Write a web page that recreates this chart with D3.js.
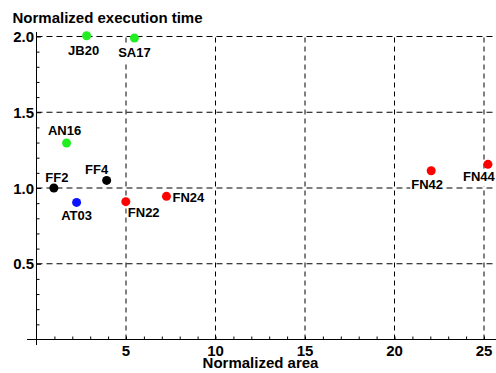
<!DOCTYPE html>
<html><head><meta charset="utf-8">
<script src="https://cdn.jsdelivr.net/npm/d3@7"></script>
<style>body{margin:0;background:#fff}svg{display:block}</style>
</head><body>
<svg id="c" width="496" height="373"></svg>
<script>
// ---- data ----
const names  = ["JB20","SA17","AN16","FF2","FF4","AT03","FN22","FN24","FN42","FN44"];
const areas  = [2.80, 5.47, 1.68, 0.97, 3.92, 2.24, 4.99, 7.26, 22.05, 25.22];
const times  = [2.005, 1.99, 1.297, 1.0, 1.05, 0.905, 0.91, 0.945, 1.114, 1.156];
const groups = ["green","green","green","black","black","blue","red","red","red","red"];
const xTicks = [5, 10, 15, 20, 25];
const yTicks = [0.5, 1.0, 1.5, 2.0];
const xTitle = "Normalized area";
const yTitle = "Normalized execution time";

// ---- style / layout ----
const colorMap = {green:"#22ee22", black:"#000000", blue:"#0a14ff", red:"#ff0000"};
// label placement relative to point: [dx, dy, anchor]
const labelPos = [[-3,19,"middle"],[0,19,"middle"],[-2,-8,"middle"],[3,-6,"middle"],[-10,-6,"middle"],
                  [0,18,"middle"],[2,15,"start"],[6,5.5,"start"],[-4,18,"middle"],[-9,17,"middle"]];

const svg = d3.select("#c");
const x = d3.scaleLinear().domain([0, 25.65]).range([36.5, 36.5 + 25.65*17.9]);
const y = d3.scaleLinear().domain([0, 2.03]).range([339.5, 339.5 - 2.03*151.5]);
const font = "'Liberation Sans', Arial, sans-serif";

// grid
const g = svg.append("g");
g.selectAll(".gx").data(xTicks).join("line")
  .attr("x1", d => x(d)).attr("x2", d => x(d))
  .attr("y1", y(0)).attr("y2", y(2.0))
  .attr("stroke", "#000").attr("stroke-dasharray", "5,4");
g.selectAll(".gy").data(yTicks).join("line")
  .attr("x1", x(0)).attr("x2", 496)
  .attr("y1", d => y(d)).attr("y2", d => y(d))
  .attr("stroke", "#000").attr("stroke-dasharray", "6,4");

// axes
const xAxis = svg.append("g").attr("transform", `translate(0,${y(0)})`)
  .call(d3.axisBottom(x).tickValues(d3.range(1, 26)).tickSize(-3).tickFormat(""));
xAxis.select(".domain").remove();
svg.append("line").attr("x1", 27).attr("x2", 496).attr("y1", y(0)).attr("y2", y(0)).attr("stroke", "#000");
xAxis.selectAll("line").attr("stroke", "#000");

const yAxis = svg.append("g").attr("transform", `translate(${x(0)},0)`)
  .call(d3.axisLeft(y).tickValues(d3.range(1, 21).map(v => v/10)).tickSize(-3).tickFormat(""));
yAxis.select(".domain").remove();
yAxis.selectAll(".tick line").filter(d => Math.abs(d*2 - Math.round(d*2)) < 1e-6).attr("x2", 4.5);
svg.append("line").attr("x1", x(0)).attr("x2", x(0)).attr("y1", y(2.03)).attr("y2", 345).attr("stroke", "#000");

// tick labels
svg.selectAll(".xl").data(xTicks).join("text")
  .attr("x", d => x(d)).attr("y", 355.5).attr("text-anchor", "middle")
  .attr("font-family", font).attr("font-weight", "bold").attr("font-size", 15)
  .text(d => d);
svg.selectAll(".yl").data(yTicks).join("text")
  .attr("x", 34).attr("y", d => y(d) + 5.6).attr("text-anchor", "end")
  .attr("font-family", font).attr("font-weight", "bold").attr("font-size", 15)
  .text(d => d.toFixed(1));

// titles
svg.append("text").attr("x", 12.5).attr("y", 22.5)
  .attr("font-family", font).attr("font-weight", "bold").attr("font-size", 15).text(yTitle);
svg.append("text").attr("x", 260.5).attr("y", 368).attr("text-anchor", "middle")
  .attr("font-family", font).attr("font-weight", "bold").attr("font-size", 15).text(xTitle);

// labels with white background
const pts = names.map((n, i) => ({n, a: areas[i], t: times[i], c: colorMap[groups[i]], p: labelPos[i]}));
const lab = svg.append("g").selectAll("g").data(pts).join("g");
lab.each(function(d) {
  const gg = d3.select(this);
  const tx = gg.append("text")
    .attr("x", x(d.a) + d.p[0]).attr("y", y(d.t) + d.p[1]).attr("text-anchor", d.p[2])
    .attr("font-family", font).attr("font-weight", "bold").attr("font-size", 13)
    .attr("fill", "#000").text(d.n);
  const bb = tx.node().getBBox();
  gg.insert("rect", "text").attr("x", bb.x - 1).attr("y", bb.y + 1).attr("width", bb.width + 2)
    .attr("height", bb.height + 1).attr("fill", "#fff");
});

// points
svg.append("g").selectAll("circle").data(pts).join("circle")
  .attr("cx", d => x(d.a)).attr("cy", d => y(d.t)).attr("r", 4.5).attr("fill", d => d.c);
</script>
</body></html>
